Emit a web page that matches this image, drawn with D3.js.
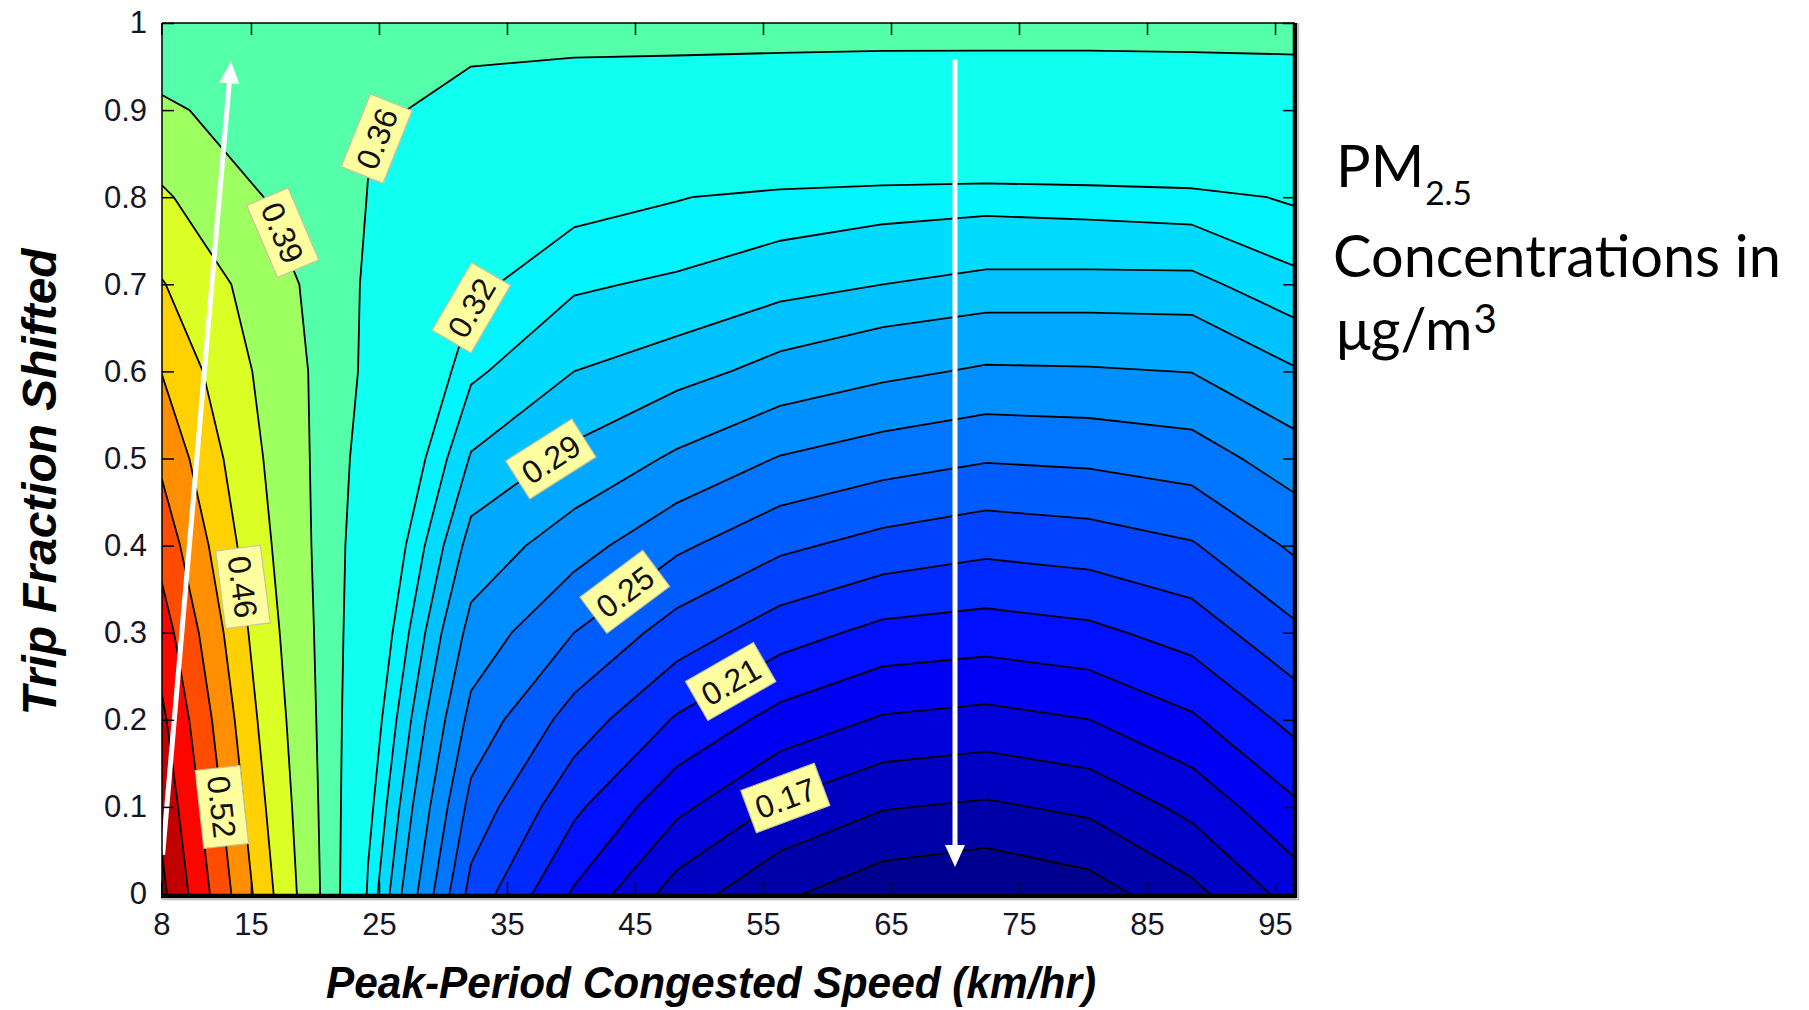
<!DOCTYPE html>
<html><head><meta charset="utf-8">
<script src="https://cdn.jsdelivr.net/npm/d3@7"></script>
<style>
html,body{margin:0;padding:0;background:#fff;}
svg{display:block;}
</style></head>
<body>
<svg id="chart" width="1809" height="1010"></svg>
<script>
// ================= DATA =================
// grid columns: peak-period congested speed (km/h), 5 mph steps
const speeds = [8.05, 16.09, 24.14, 32.19, 40.23, 48.28, 56.33, 64.37, 72.42, 80.47, 88.51, 96.56];
// grid rows: trip fraction shifted
const fractions = [0, 0.1, 0.2, 0.3, 0.4, 0.5, 0.6, 0.7, 0.8, 0.9, 1.0];
// PM2.5 concentration (ug/m3) per speed column, one value per fraction row
const pm_s08 = [0.617, 0.602, 0.586, 0.5645, 0.539, 0.514, 0.489, 0.462, 0.4296, 0.3958, 0.3625];
const pm_s16 = [0.473, 0.461, 0.450, 0.440, 0.431, 0.4235, 0.416, 0.407, 0.3895, 0.3741, 0.3625];
const pm_s24 = [0.318, 0.324, 0.3295, 0.335, 0.340, 0.3465, 0.354, 0.356, 0.3596, 0.3615, 0.3625];
const pm_s32 = [0.232, 0.2455, 0.259, 0.272, 0.2855, 0.299, 0.312, 0.323, 0.336, 0.3575, 0.3625];
const pm_s40 = [0.195, 0.213, 0.231, 0.250, 0.269, 0.2875, 0.300, 0.3115, 0.3245, 0.3562, 0.3625];
const pm_s48 = [0.1637, 0.1865, 0.2085, 0.2305, 0.2525, 0.2745, 0.2944, 0.3082, 0.3206, 0.3558, 0.3625];
const pm_s56 = [0.1457, 0.1681, 0.1919, 0.216, 0.2395, 0.2625, 0.286, 0.3035, 0.3165, 0.3552, 0.3625];
const pm_s64 = [0.1346, 0.1576, 0.1818, 0.2061, 0.2318, 0.256, 0.2797, 0.300, 0.3145, 0.3547, 0.3625];
const pm_s72 = [0.1306, 0.1546, 0.1789, 0.2034, 0.2269, 0.2512, 0.275, 0.2972, 0.3135, 0.3546, 0.3625];
const pm_s80 = [0.137, 0.1596, 0.1832, 0.2068, 0.2296, 0.2527, 0.2755, 0.297, 0.3145, 0.3546, 0.3625];
const pm_s88 = [0.1528, 0.1738, 0.1948, 0.2155, 0.2355, 0.2565, 0.277, 0.297, 0.316, 0.355, 0.3625];
const pm_s96 = [0.1755, 0.1945, 0.2141, 0.234, 0.2523, 0.2706, 0.289, 0.307, 0.3215, 0.3556, 0.3625];
const columns = [pm_s08, pm_s16, pm_s24, pm_s32, pm_s40, pm_s48, pm_s56, pm_s64, pm_s72, pm_s80, pm_s88, pm_s96];

// contour levels
const levels = [0.1433, 0.1567, 0.17, 0.1833, 0.1967, 0.21, 0.2233, 0.2367, 0.25, 0.2633, 0.2767, 0.29,
                0.30, 0.31, 0.32, 0.36, 0.39, 0.425, 0.46, 0.49, 0.52, 0.55, 0.58, 0.61];
// contour labels (value, approximate location in data space)
const labelLevels    = [0.52, 0.46, 0.39, 0.36, 0.32, 0.29, 0.25, 0.21, 0.17];
const labelSpeeds    = [12.8, 14.6, 16.6, 25.6, 32.3, 38.4, 44.0, 52.2, 56.7];
const labelFractions = [0.10, 0.353, 0.753, 0.861, 0.672, 0.50, 0.351, 0.251, 0.112];

// axis ticks
const xTicks = [8, 15, 25, 35, 45, 55, 65, 75, 85, 95];
const yTicks = [0, 0.1, 0.2, 0.3, 0.4, 0.5, 0.6, 0.7, 0.8, 0.9, 1];
const yTickLabels = ["0", "0.1", "0.2", "0.3", "0.4", "0.5", "0.6", "0.7", "0.8", "0.9", "1"];

// white annotation arrows (data space: [speed, fraction])
const arrowUpFrom = [8.1, 0.045], arrowUpTo = [13.45, 0.956];
const arrowDownFrom = [70.0, 0.958], arrowDownTo = [70.0, 0.031];

// ================= STYLE =================
// jet colormap positions for each filled band (lowest band first)
const bandTones = [0.015, 0.04, 0.065, 0.09, 0.115, 0.14, 0.165, 0.19, 0.215, 0.24, 0.265, 0.29, 0.315,
                   0.34, 0.365, 0.39, 0.458, 0.53, 0.59, 0.67, 0.735, 0.80, 0.87, 0.935, 1.0];
function jet(t) {
  const c = v => Math.max(0, Math.min(1, v));
  const r = c(Math.min(4 * t - 1.5, -4 * t + 4.5));
  const g = c(Math.min(4 * t - 0.5, -4 * t + 3.5));
  const b = c(Math.min(4 * t + 0.5, -4 * t + 2.5));
  return d3.rgb(r * 255, g * 255, b * 255).formatHex();
}
const tickFont = "'Liberation Sans', Arial, Helvetica, sans-serif";

// ================= CHART =================
const W = 1809, H = 1010;
const plot = { left: 162, right: 1295, top: 23, bottom: 894 };
const svg = d3.select("#chart");
svg.append("rect").attr("width", W).attr("height", H).attr("fill", "#fff");

const x = d3.scaleLinear().domain([speeds[0], speeds[speeds.length - 1]]).range([plot.left, plot.right]);
const y = d3.scaleLinear().domain([0, 1]).range([plot.bottom, plot.top]);

svg.append("defs").append("clipPath").attr("id", "plotclip")
  .append("rect").attr("x", plot.left).attr("y", plot.top)
  .attr("width", plot.right - plot.left).attr("height", plot.bottom - plot.top);

const n = speeds.length, m = fractions.length;
const values = new Array(n * m);
for (let j = 0; j < m; j++) for (let i = 0; i < n; i++) values[i + j * n] = columns[i][j];
const dS = (speeds[n - 1] - speeds[0]) / (n - 1);
const dP = (fractions[m - 1] - fractions[0]) / (m - 1);
const gx2s = gx => speeds[0] + (gx - 0.5) * dS;
const gy2p = gy => fractions[0] + (gy - 0.5) * dP;

const iso = d3.contours().size([n, m]).thresholds(levels)(values);

function ringPath(ring) {
  return "M" + ring.map(([gx, gy]) => x(gx2s(gx)).toFixed(2) + "," + y(gy2p(gy)).toFixed(2)).join("L") + "Z";
}
function mpPath(c) { return c.coordinates.map(poly => poly.map(ringPath).join("")).join(""); }

const gPlot = svg.append("g").attr("clip-path", "url(#plotclip)");
gPlot.append("rect").attr("x", plot.left - 5).attr("y", plot.top - 5)
  .attr("width", plot.right - plot.left + 10).attr("height", plot.bottom - plot.top + 10)
  .attr("fill", jet(bandTones[0]));
gPlot.selectAll("path.band").data(iso).join("path").attr("class", "band")
  .attr("d", mpPath).attr("fill", (d, k) => jet(bandTones[k + 1])).attr("fill-rule", "evenodd");
gPlot.selectAll("path.isoline").data(iso).join("path").attr("class", "isoline")
  .attr("d", mpPath).attr("fill", "none").attr("stroke", "#000")
  .attr("stroke-width", 1.8).attr("stroke-linejoin", "round");

// arrows
function arrow(from, to) {
  const x0 = x(from[0]), y0 = y(from[1]), x1 = x(to[0]), y1 = y(to[1]);
  const L = Math.hypot(x1 - x0, y1 - y0), ux = (x1 - x0) / L, uy = (y1 - y0) / L;
  const hl = 22, hw = 10;
  const bx = x1 - ux * hl, by = y1 - uy * hl;
  gPlot.append("line").attr("x1", x0).attr("y1", y0).attr("x2", bx + ux * 2).attr("y2", by + uy * 2)
    .attr("stroke", "#fff").attr("stroke-width", 5);
  gPlot.append("path").attr("fill", "#fff")
    .attr("d", `M${x1},${y1}L${bx - uy * hw},${by + ux * hw}L${bx + uy * hw},${by - ux * hw}Z`);
}
arrow(arrowUpFrom, arrowUpTo);
arrow(arrowDownFrom, arrowDownTo);

// contour labels
function field(s, p) {
  const gx = (s - speeds[0]) / dS, gy = (p - fractions[0]) / dP;
  const i = Math.max(0, Math.min(n - 2, Math.floor(gx))), j = Math.max(0, Math.min(m - 2, Math.floor(gy)));
  const tx = gx - i, ty = gy - j;
  const v = (a, b) => columns[a][b];
  return (1 - tx) * (1 - ty) * v(i, j) + tx * (1 - ty) * v(i + 1, j) + (1 - tx) * ty * v(i, j + 1) + tx * ty * v(i + 1, j + 1);
}
const fs = (px, py) => field(x.invert(px), y.invert(py));
const gLab = svg.append("g");
labelLevels.forEach((lv, k) => {
  let px = x(labelSpeeds[k]), py = y(labelFractions[k]);
  let gxp = 0, gyp = 0;
  for (let it = 0; it < 8; it++) {
    const f = fs(px, py) - lv;
    gxp = (fs(px + 2, py) - fs(px - 2, py)) / 4;
    gyp = (fs(px, py + 2) - fs(px, py - 2)) / 4;
    const g2 = gxp * gxp + gyp * gyp;
    if (g2 === 0) break;
    let sx = f * gxp / g2, sy = f * gyp / g2;
    const sl = Math.hypot(sx, sy);
    if (sl > 20) { sx *= 20 / sl; sy *= 20 / sl; }
    px -= sx; py -= sy;
  }
  gxp = (fs(px + 3, py) - fs(px - 3, py)) / 6;
  gyp = (fs(px, py + 3) - fs(px, py - 3)) / 6;
  let ang = Math.atan2(-gxp, gyp) * 180 / Math.PI;
  if (ang > 90) ang -= 180;
  if (ang <= -90) ang += 180;
  const g = gLab.append("g").attr("transform", `translate(${px},${py}) rotate(${ang})`);
  const rect = g.append("rect").attr("fill", "#ffffa0").attr("stroke", "#c4c49c").attr("stroke-width", 1.2);
  const t = g.append("text").attr("text-anchor", "middle").attr("dy", "0.36em")
    .attr("font-family", tickFont).attr("font-size", 32).attr("fill", "#111").text(d3.format(".2f")(lv));
  const tw = t.node().getComputedTextLength();
  const bw = tw + 16, bh = 45;
  rect.attr("x", -bw / 2).attr("y", -bh / 2).attr("width", bw).attr("height", bh);
});

// axes (inward ticks on all four sides)
function styleAxis(g) {
  g.select(".domain").remove();
  g.attr("font-family", tickFont).attr("font-size", 31);
  g.selectAll(".tick line").attr("stroke", "#000").attr("stroke-width", 1.5);
  g.selectAll(".tick text").attr("fill", "#151525");
}
svg.append("g").attr("transform", `translate(0,${plot.bottom})`)
  .call(d3.axisBottom(x).tickValues(xTicks).tickSizeInner(-12).tickSizeOuter(0).tickPadding(19).tickFormat(d3.format("d")))
  .call(styleAxis);
svg.append("g").attr("transform", `translate(0,${plot.top})`)
  .call(d3.axisTop(x).tickValues(xTicks).tickSizeInner(-12).tickSizeOuter(0).tickFormat(""))
  .call(styleAxis);
svg.append("g").attr("transform", `translate(${plot.left},0)`)
  .call(d3.axisLeft(y).tickValues(yTicks).tickSizeInner(-12).tickSizeOuter(0).tickPadding(15)
    .tickFormat((d, i) => yTickLabels[i]))
  .call(styleAxis);
svg.append("g").attr("transform", `translate(${plot.right},0)`)
  .call(d3.axisRight(y).tickValues(yTicks).tickSizeInner(-12).tickSizeOuter(0).tickFormat(""))
  .call(styleAxis);

// frame
const frame = svg.append("g");
frame.append("line").attr("x1", plot.left).attr("x2", plot.right).attr("y1", plot.top).attr("y2", plot.top)
  .attr("stroke", "#000").attr("stroke-width", 1.5);
frame.append("line").attr("x1", plot.left).attr("x2", plot.left).attr("y1", plot.top).attr("y2", plot.bottom + 3)
  .attr("stroke", "#000").attr("stroke-width", 1.5);
frame.append("line").attr("x1", plot.left - 1).attr("x2", plot.right + 1).attr("y1", plot.bottom + 2).attr("y2", plot.bottom + 2)
  .attr("stroke", "#000").attr("stroke-width", 4.5);
frame.append("line").attr("x1", plot.right).attr("x2", plot.right).attr("y1", plot.top).attr("y2", plot.bottom + 4)
  .attr("stroke", "#000").attr("stroke-width", 4.5);
frame.append("line").attr("x1", plot.left).attr("x2", plot.right + 4).attr("y1", plot.bottom + 5.5).attr("y2", plot.bottom + 5.5)
  .attr("stroke", "#bbb").attr("stroke-width", 1.5);
frame.append("line").attr("x1", plot.right + 3.5).attr("x2", plot.right + 3.5).attr("y1", plot.top).attr("y2", plot.bottom + 6)
  .attr("stroke", "#bbb").attr("stroke-width", 1.5);

// axis titles
svg.append("text").attr("x", 711).attr("y", 998).attr("text-anchor", "middle")
  .attr("font-family", tickFont).attr("font-weight", "bold").attr("font-style", "italic")
  .attr("font-size", 44).attr("textLength", 770).attr("lengthAdjust", "spacingAndGlyphs")
  .attr("fill", "#000").text("Peak-Period Congested Speed (km/hr)");
svg.append("text").attr("transform", "translate(56,482) rotate(-90)").attr("text-anchor", "middle")
  .attr("font-family", tickFont).attr("font-weight", "bold").attr("font-style", "italic")
  .attr("font-size", 48).attr("textLength", 467).attr("lengthAdjust", "spacingAndGlyphs")
  .attr("fill", "#000").text("Trip Fraction Shifted");

// right-hand title
const sideFont = "Lato, 'Open Sans', 'Noto Sans', sans-serif";
const side = svg.append("g").attr("font-family", sideFont).attr("fill", "#000");
const probe = side.append("text").attr("font-size", 100).text("Concentrations in");
const fsz = 100 * 448 / probe.node().getComputedTextLength();
probe.remove();
const pm = side.append("text").attr("x", 1336).attr("y", 187).attr("font-size", fsz).text("PM");
const pmw = pm.node().getComputedTextLength();
side.append("text").attr("x", 1336 + pmw + 1).attr("y", 205).attr("font-size", fsz * 0.58).text("2.5");
side.append("text").attr("x", 1333).attr("y", 277).attr("font-size", fsz).text("Concentrations in");
const ug = side.append("text").attr("x", 1336).attr("y", 350).attr("font-size", fsz).text("μg/m");
const ugw = ug.node().getComputedTextLength();
side.append("text").attr("x", 1336 + ugw + 1).attr("y", 333).attr("font-size", fsz * 0.7).text("3");
</script>
</body></html>
